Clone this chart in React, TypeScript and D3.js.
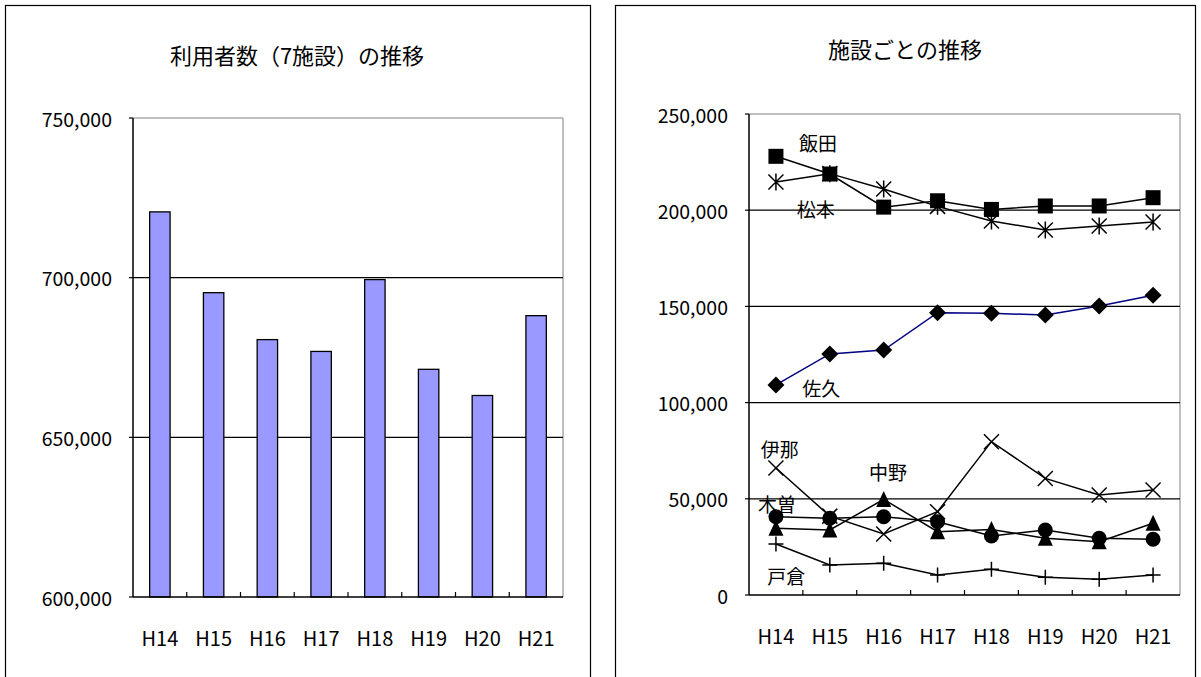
import * as d3 from "d3";

const years = ["H14", "H15", "H16", "H17", "H18", "H19", "H20", "H21"];

// 利用者数（7施設）
const totalUsers = [720600, 695300, 680600, 676900, 699400, 671300, 663100, 688100];
const totalTicks = [600000, 650000, 700000, 750000];

// 施設ごと
const iida = [228000, 218800, 201600, 204900, 200400, 202200, 202200, 206500];
const matsumoto = [214700, 219000, 211000, 202000, 194400, 189700, 191800, 193900];
const saku = [109200, 125300, 127300, 146700, 146400, 145500, 150200, 155800];
const ina = [66000, 41000, 31700, 43300, 79700, 60600, 52000, 54600];
const kiso = [40700, 39900, 40700, 38100, 30700, 33800, 29500, 29000];
const nakano = [34700, 33800, 49700, 32900, 34000, 29500, 27700, 37300];
const togura = [26500, 15600, 16500, 10400, 13400, 9200, 8200, 10400];
const facilityTicks = [0, 50000, 100000, 150000, 200000, 250000];

type Marker = "square" | "asterisk" | "diamond" | "x" | "circle" | "triangle" | "plus";

const series: { name: string; values: number[]; marker: Marker; color: string; labelAt: [number, number] }[] = [
  { name: "飯田", values: iida, marker: "square", color: "#000", labelAt: [0.78, 235000] },
  { name: "松本", values: matsumoto, marker: "asterisk", color: "#000", labelAt: [0.74, 201100] },
  { name: "佐久", values: saku, marker: "diamond", color: "#000080", labelAt: [0.84, 108100] },
  { name: "伊那", values: ina, marker: "x", color: "#000", labelAt: [0.07, 76400] },
  { name: "中野", values: nakano, marker: "triangle", color: "#000", labelAt: [2.08, 64400] },
  { name: "木曽", values: kiso, marker: "circle", color: "#000", labelAt: [0.02, 47800] },
  { name: "戸倉", values: togura, marker: "plus", color: "#000", labelAt: [0.19, 9900] },
];

const FONT = "'Noto Sans CJK JP', 'Noto Sans', sans-serif";
const fmt = d3.format(",");

function MarkerShape({ type, x, y }: { type: Marker; x: number; y: number }) {
  const s = 7.5;
  switch (type) {
    case "square":
      return <rect x={x - s} y={y - s} width={2 * s} height={2 * s} fill="#000" />;
    case "diamond":
      return <path d={`M${x},${y - s - 1}L${x + s + 1},${y}L${x},${y + s + 1}L${x - s - 1},${y}Z`} fill="#000" />;
    case "triangle":
      return <path d={`M${x},${y - s - 1}L${x + s},${y + s}L${x - s},${y + s}Z`} fill="#000" />;
    case "circle":
      return <circle cx={x} cy={y} r={s} fill="#000" />;
    case "x":
      return (
        <path d={`M${x - s},${y - s}L${x + s},${y + s}M${x - s},${y + s}L${x + s},${y - s}`} stroke="#000" strokeWidth={1.5} />
      );
    case "plus":
      return <path d={`M${x - s},${y}L${x + s},${y}M${x},${y - s}L${x},${y + s}`} stroke="#000" strokeWidth={1.5} />;
    case "asterisk":
      return (
        <path
          d={`M${x - s},${y - s}L${x + s},${y + s}M${x - s},${y + s}L${x + s},${y - s}M${x},${y - s - 1}L${x},${y + s + 1}`}
          stroke="#000"
          strokeWidth={1.5}
        />
      );
  }
}

function BarPanel() {
  const left = 133, right = 563, top = 118, bottom = 597;
  const x = d3.scaleBand<string>().domain(years).range([left, right]);
  const y = d3.scaleLinear().domain([600000, 750000]).range([bottom, top]);
  const barW = x.bandwidth() * 0.38;
  return (
    <g>
      <rect x={5.5} y={5.5} width={585} height={700} fill="#fff" stroke="#000" strokeWidth={1.2} />
      <text x={297} y={54} textAnchor="middle" dominantBaseline="central" fontSize={22} fontFamily={FONT}>
        利用者数（7施設）の推移
      </text>
      {/* plot border */}
      <path d={`M${left},${top}H${right}V${bottom}`} fill="none" stroke="#808080" strokeWidth={1} />
      {totalTicks.slice(1, -1).map((t) => (
        <line key={t} x1={left} x2={right} y1={y(t)} y2={y(t)} stroke="#000" strokeWidth={1.2} />
      ))}
      {totalUsers.map((v, i) => (
        <rect
          key={i}
          x={x(years[i])! + (x.bandwidth() - barW) / 2}
          y={y(v)}
          width={barW}
          height={y(600000) - y(v)}
          fill="#9999FF"
          stroke="#000"
          strokeWidth={1.3}
        />
      ))}
      <line x1={left} x2={left} y1={top} y2={bottom} stroke="#000" strokeWidth={1.5} />
      <line x1={left} x2={right} y1={bottom} y2={bottom} stroke="#000" strokeWidth={1.5} />
      {years.slice(1).map((c) => (
        <line key={c} x1={x(c)} x2={x(c)} y1={bottom} y2={bottom - 5} stroke="#000" strokeWidth={1.2} />
      ))}
      {totalTicks.map((t) => (
        <g key={t}>
          <line x1={left - 4} x2={left} y1={y(t)} y2={y(t)} stroke="#000" strokeWidth={1.2} />
          <text x={112} y={y(t)} textAnchor="end" dominantBaseline="central" fontSize={19.5} fontFamily={FONT}>
            {fmt(t)}
          </text>
        </g>
      ))}
      {years.map((c) => (
        <text key={c} x={x(c)! + x.bandwidth() / 2} y={637} textAnchor="middle" dominantBaseline="central" fontSize={20} fontFamily={FONT}>
          {c}
        </text>
      ))}
    </g>
  );
}

function LinePanel() {
  const left = 749, right = 1180, top = 114, bottom = 595;
  const x = d3.scaleBand<string>().domain(years).range([left, right]);
  const cx = (i: number) => left + (i + 0.5) * x.bandwidth();
  const y = d3.scaleLinear().domain([0, 250000]).range([bottom, top]);
  const line = d3.line<number>().x((_, i) => cx(i)).y((d) => y(d));
  return (
    <g>
      <rect x={615.5} y={5.5} width={580} height={700} fill="#fff" stroke="#000" strokeWidth={1.2} />
      <text x={905} y={48} textAnchor="middle" dominantBaseline="central" fontSize={22} fontFamily={FONT}>
        施設ごとの推移
      </text>
      <path d={`M${left},${top}H${right}V${bottom}`} fill="none" stroke="#808080" strokeWidth={1} />
      {facilityTicks.slice(1, -1).map((t) => (
        <line key={t} x1={left} x2={right} y1={y(t)} y2={y(t)} stroke="#000" strokeWidth={1.2} />
      ))}
      <line x1={left} x2={left} y1={top} y2={bottom} stroke="#000" strokeWidth={1.5} />
      <line x1={left} x2={right} y1={bottom} y2={bottom} stroke="#000" strokeWidth={1.5} />
      {years.slice(1).map((c) => (
        <line key={c} x1={x(c)} x2={x(c)} y1={bottom} y2={bottom - 5} stroke="#000" strokeWidth={1.2} />
      ))}
      {facilityTicks.map((t) => (
        <g key={t}>
          <line x1={left - 4} x2={left} y1={y(t)} y2={y(t)} stroke="#000" strokeWidth={1.2} />
          <text x={728} y={y(t)} textAnchor="end" dominantBaseline="central" fontSize={19.5} fontFamily={FONT}>
            {fmt(t)}
          </text>
        </g>
      ))}
      {years.map((c) => (
        <text key={c} x={x(c)! + x.bandwidth() / 2} y={635} textAnchor="middle" dominantBaseline="central" fontSize={20} fontFamily={FONT}>
          {c}
        </text>
      ))}
      {series.map((s) => (
        <path key={s.name} d={line(s.values) ?? undefined} fill="none" stroke={s.color} strokeWidth={1.5} />
      ))}
      {series.map((s) =>
        s.values.map((v, i) => <MarkerShape key={s.name + i} type={s.marker} x={cx(i)} y={y(v)} />)
      )}
      {series.map((s) => (
        <text
          key={"l" + s.name}
          x={cx(s.labelAt[0])}
          y={y(s.labelAt[1])}
          textAnchor="middle"
          dominantBaseline="central"
          fontSize={19}
          fontFamily={FONT}
        >
          {s.name}
        </text>
      ))}
    </g>
  );
}

export default function App() {
  return (
    <svg
      width={1201}
      height={677}
      viewBox="0 0 1201 677"
      style={{ position: "absolute", left: 0, top: 0, display: "block", background: "#fff" }}
    >
      <rect width={1201} height={677} fill="#fff" />
      <BarPanel />
      <LinePanel />
    </svg>
  );
}
